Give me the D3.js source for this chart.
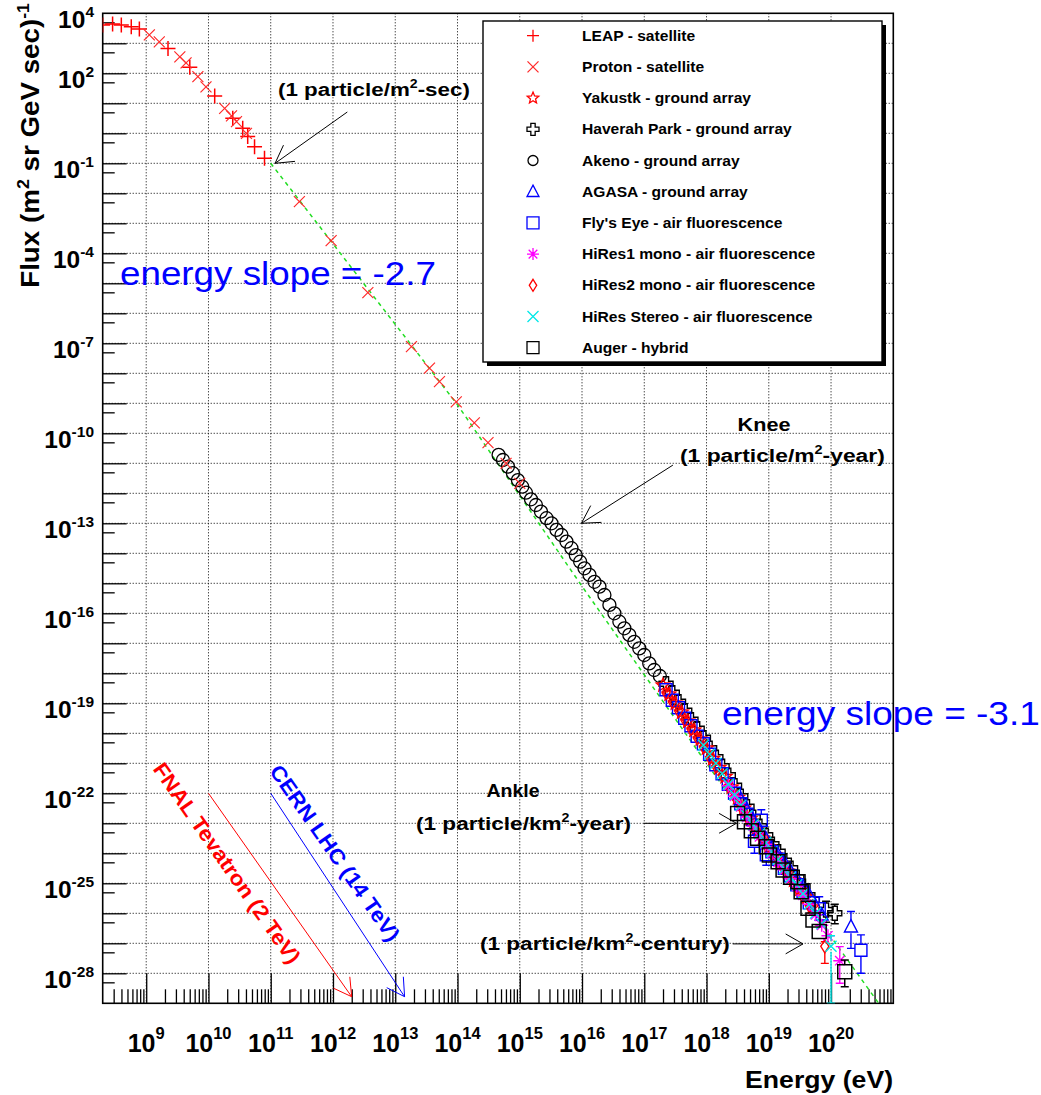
<!DOCTYPE html>
<html>
<head>
<meta charset="utf-8">
<script src="https://cdn.jsdelivr.net/npm/d3@7"></script>
<style>
  body { margin: 0; background: #fff; }
  svg { display: block; }
  text { font-family: "Liberation Sans", Arial, Helvetica, sans-serif; }
</style>
</head>
<body>
<svg id="chart" width="1041" height="1095"></svg>
<script>
// all values as [log10 E (eV), log10 flux]
// a point may carry a 3rd/4th entry: [.., low, high] error bar (log10 flux)
var leap = [[8.30,3.61],[8.46,3.64],[8.60,3.61],[8.76,3.55],[8.89,3.48],[9.35,2.83],[9.70,2.20],
  [10.10,1.24],[10.39,0.50],[10.55,0.17],[10.63,-0.11],[10.74,-0.45],[10.90,-0.83]];
var proton = [[9.05,3.28],[9.21,3.05],[9.54,2.55],[9.64,2.35],[9.83,1.89],[9.96,1.55],[10.26,0.83],
  [10.37,0.58],[10.45,0.39],[10.61,0.0],[11.46,-2.28],[11.97,-3.58],[12.56,-5.31],[13.26,-7.11],
  [13.55,-7.83],[13.71,-8.28],[13.98,-8.95],[14.27,-9.65],[14.49,-10.31],[14.78,-11.0],[15.0,-11.67]];
var yakutsk = [[17.3,-18.4],[17.4,-18.7],[17.5,-19.0],[17.6,-19.3],[17.7,-19.6],[17.8,-19.9],[17.9,-20.2],
  [18.0,-20.5],[18.1,-20.85],[18.2,-21.15],[18.3,-21.45],[18.4,-21.8],[18.5,-22.15],[18.6,-22.5],
  [18.7,-22.85],[18.8,-23.2],[18.9,-23.5],[19.0,-23.8],[19.1,-24.05],[19.2,-24.35],[19.3,-24.6],
  [19.4,-24.9],[19.5,-25.2],[19.6,-25.45],[19.7,-25.8]];
var haverah = [[17.35,-18.35],[17.45,-18.65],[17.55,-18.95],[17.65,-19.25],[17.75,-19.55],[17.85,-19.85],
  [17.95,-20.15],[18.05,-20.5],[18.15,-20.8],[18.25,-21.1],[18.35,-21.4],[18.45,-21.75],[18.55,-22.1],
  [18.65,-22.45],[18.75,-22.8],[18.85,-23.1],[18.95,-23.4],[19.05,-23.7],[19.15,-23.95],[19.25,-24.25],
  [19.35,-24.5],[19.45,-24.8],[19.55,-25.1],[19.7,-25.55],[19.92,-25.89,-26.3,-25.6],[20.06,-26.0,-26.35,-25.7]];
var akeno = [[14.66,-10.72],[14.73,-10.89],[14.81,-11.11],[14.89,-11.33],[14.97,-11.56],[15.04,-11.78],
  [15.10,-11.98],[15.18,-12.2],[15.26,-12.39],[15.34,-12.61],[15.43,-12.83],[15.51,-13.0],[15.59,-13.22],
  [15.67,-13.39],[15.75,-13.61],[15.83,-13.83],[15.90,-14.06],[15.97,-14.28],[16.04,-14.5],[16.12,-14.72],
  [16.20,-14.95],[16.28,-15.11],[16.36,-15.39],[16.44,-15.72],[16.52,-16.0],[16.60,-16.28],[16.68,-16.5],
  [16.76,-16.72],[16.84,-16.95],[16.92,-17.17],[17.0,-17.39],[17.08,-17.67],[17.16,-17.89],[17.25,-18.09]];
var agasa = [[18.55,-22.2],[18.65,-22.55],[18.75,-22.9],[18.85,-23.2],[18.95,-23.5],[19.05,-23.8],
  [19.15,-24.05],[19.25,-24.3],[19.35,-24.6],[19.45,-24.85],[19.55,-25.1],[19.65,-25.4],[19.75,-25.75],
  [19.85,-26.05],[20.32,-26.45,-27.17,-25.94]];
var flysEye = [[17.35,-18.55],[17.45,-18.9],[17.55,-19.15],[17.65,-19.5],[17.75,-19.75],[17.85,-20.1],
  [17.95,-20.35],[18.05,-20.7],[18.15,-21.05],[18.25,-21.35],[18.35,-21.7],[18.45,-22.0],[18.55,-22.35],
  [18.65,-22.7],[18.77,-23.6,-24.0,-23.3],[18.88,-22.9,-23.3,-22.55],[18.96,-24.05,-24.4,-23.78],
  [19.05,-23.95],[19.15,-24.2],[19.25,-24.5],[19.35,-24.75],[19.45,-25.05],[19.55,-25.3],[19.65,-25.65],
  [19.81,-25.85,-26.22,-25.45],[20.48,-27.23,-28.0,-26.72]];
var hires1 = [[18.35,-21.75],[18.45,-22.1],[18.55,-22.45],[18.65,-22.8],[18.75,-23.1],[18.85,-23.45],
  [18.95,-23.7],[19.05,-24.0],[19.15,-24.3],[19.25,-24.55],[19.35,-24.85],[19.45,-25.1],[19.55,-25.4],
  [19.65,-25.7],[19.75,-26.05],[19.85,-26.4],[19.95,-26.75],[20.14,-27.58,-28.33,-27.11]];
var hires2 = [[17.35,-18.65],[17.45,-18.95],[17.55,-19.25],[17.65,-19.55],[17.75,-19.85],[17.85,-20.15],
  [17.95,-20.45],[18.05,-20.8],[18.15,-21.1],[18.25,-21.4],[18.35,-21.75],[18.45,-22.1],[18.55,-22.45],
  [18.65,-22.8],[18.75,-23.1],[18.85,-23.4],[18.95,-23.7],[19.05,-24.0],[19.15,-24.3],[19.25,-24.55],
  [19.35,-24.85],[19.45,-25.15],[19.55,-25.45],[19.65,-25.75],[19.9,-27.1,-27.67,-26.95]];
var stereo = [[17.95,-20.4],[18.05,-20.7],[18.15,-21.0],[18.25,-21.35],[18.35,-21.7],[18.45,-22.05],
  [18.55,-22.4],[18.65,-22.75],[18.75,-23.05],[18.85,-23.35],[18.95,-23.65],[19.05,-23.95],[19.15,-24.2],
  [19.25,-24.5],[19.35,-24.8],[19.45,-25.05],[19.55,-25.35],[19.65,-25.7],[19.75,-26.0],[19.85,-26.35],
  [20.0,-27.1,-29,-26.75]];
var auger = [[18.5,-22.67],[18.61,-22.95],[18.72,-23.25],[18.82,-23.5],[18.96,-23.78],[19.01,-24.06],
  [19.15,-24.28],[19.23,-24.56],[19.35,-24.8],[19.47,-24.95],[19.52,-25.28],[19.63,-25.83],[19.71,-26.22],
  [19.81,-26.61],[20.22,-27.95,-28.45,-27.56]];

// green dashed reference line (slope -2.7 then steeper)
var slopeLine = [[11,-1],[14,-9.05],[16,-15.1],[18,-21.0],[20.8,-29.1]];

var legendLabels = ["LEAP - satellite", "Proton - satellite", "Yakustk - ground array",
  "Haverah Park - ground array", "Akeno - ground array", "AGASA - ground array",
  "Fly's Eye - air fluorescence", "HiRes1 mono - air fluorescence", "HiRes2 mono - air fluorescence",
  "HiRes Stereo - air fluorescence", "Auger - hybrid"];
var seriesData = [leap, proton, yakutsk, haverah, akeno, agasa, flysEye, hires1, hires2, stereo, auger];

var xTickExp = [9,10,11,12,13,14,15,16,17,18,19,20];
var yTickExp = [4,2,-1,-4,-7,-10,-13,-16,-19,-22,-25,-28];

// annotation arrows [from, to] in data coords
var noteArrows = [[[12.23,0.71],[11.07,-1.0]], [[17.46,-11.06],[15.99,-13.0]],
  [[16.99,-23.0],[18.48,-23.0]], [[18.42,-27.02],[19.55,-27.02]]];
var fnalArrow = [[10.0,-22.0],[12.3,-28.78]];   // 2 TeV
var lhcArrow = [[11.0,-22.0],[13.15,-28.78]];   // 14 TeV

// ---- styles
var markers = [
  {type:"plus", color:"#ff0000", s:7.5, lw:1.5},
  {type:"cross", color:"#ff2a2a", s:5.5, lw:1.2},
  {type:"star", color:"#ff0000", s:7, lw:1.4},
  {type:"opencross", color:"#000", s:7, lw:1.4},
  {type:"circle", color:"#000", s:6.5, lw:1.3},
  {type:"triangle", color:"#0000ff", s:6.5, lw:1.4},
  {type:"square", color:"#0000ff", s:6, lw:1.4},
  {type:"asterisk", color:"#ff00ff", s:6.5, lw:1.4},
  {type:"diamond", color:"#ff0000", s:6.5, lw:1.4},
  {type:"cross", color:"#00e8e8", s:5.5, lw:1.4},
  {type:"square", color:"#000", s:7, lw:1.5}
];

var svg = d3.select("#chart");
var x = d3.scaleLog().domain([2e8, 1e21]).range([102.7, 893.3]);
var y = d3.scaleLog().domain([1e-29, 1e4]).range([1003.3, 13.3]);
var x0 = x.range()[0], x1 = x.range()[1], yB = y.range()[0], yT = y.range()[1];
function px(d) { return x(Math.pow(10, d[0])); }
function py(d) { return y(Math.pow(10, d[1])); }
function pv(v) { return y(Math.pow(10, v)); }

function markerPath(type, s) {
  var a, pts, i;
  switch (type) {
    case "plus": return "M" + (-s) + ",0H" + s + "M0," + (-s) + "V" + s;
    case "cross": return "M" + (-s) + "," + (-s) + "L" + s + "," + s + "M" + (-s) + "," + s + "L" + s + "," + (-s);
    case "asterisk": a = s * 0.72;
      return "M" + (-s) + ",0H" + s + "M0," + (-s) + "V" + s +
        "M" + (-a) + "," + (-a) + "L" + a + "," + a + "M" + (-a) + "," + a + "L" + a + "," + (-a);
    case "square": return "M" + (-s) + "," + (-s) + "H" + s + "V" + s + "H" + (-s) + "Z";
    case "triangle": return "M0," + (-s * 1.1) + "L" + s + "," + (s * 0.8) + "L" + (-s) + "," + (s * 0.8) + "Z";
    case "diamond": return "M0," + (-s) + "L" + (s * 0.62) + ",0L0," + s + "L" + (-s * 0.62) + ",0Z";
    case "circle": return "M" + s + ",0A" + s + "," + s + " 0 1,1 " + (-s) + ",0A" + s + "," + s + " 0 1,1 " + s + ",0Z";
    case "star":
      pts = [];
      for (i = 0; i < 10; i++) {
        var r = i % 2 ? s * 0.45 : s, t = -Math.PI / 2 + i * Math.PI / 5;
        pts.push([r * Math.cos(t), r * Math.sin(t)]);
      }
      return "M" + pts.join("L") + "Z";
    case "opencross": a = s * 0.36;
      pts = [[-a,-s],[a,-s],[a,-a],[s,-a],[s,a],[a,a],[a,s],[-a,s],[-a,a],[-s,a],[-s,-a],[-a,-a]];
      return "M" + pts.join("L") + "Z";
  }
}

function addText(parent, tx, ty, parts, o) {
  var g = parent.append("g");
  var t = g.append("text")
    .attr("font-size", o.size)
    .attr("font-weight", o.bold ? "bold" : "normal")
    .attr("fill", o.color || "#000")
    .attr("text-anchor", o.anchor || "start");
  if (o.dy) t.attr("dy", o.dy);
  var up = false;
  parts.forEach(function (p) {
    var s = t.append("tspan");
    if (typeof p === "string") {
      s.text(p);
      if (up) { s.attr("dy", o.rise); up = false; }
    } else {
      s.text(p.sup).attr("font-size", o.supSize).attr("dy", -o.rise);
      up = true;
    }
  });
  var k = o.sx || 1;
  if (o.width) k = o.width / t.node().getBBox().width;
  g.attr("transform", "translate(" + tx + "," + ty + ")" + (o.rotate ? " rotate(" + o.rotate + ")" : "") +
    " scale(" + k + ",1)");
  return g;
}

function arrow(parent, from, to, color) {
  var ax = px(from), ay = py(from), bx = px(to), by = py(to);
  var a = Math.atan2(ay - by, ax - bx), L = 20, h = 0.52;
  parent.append("path")
    .attr("d", "M" + ax + "," + ay + "L" + bx + "," + by +
      "M" + (bx + L * Math.cos(a + h)) + "," + (by + L * Math.sin(a + h)) + "L" + bx + "," + by +
      "L" + (bx + L * Math.cos(a - h)) + "," + (by + L * Math.sin(a - h)))
    .attr("fill", "none").attr("stroke", color).attr("stroke-width", 1);
}

svg.append("defs").append("clipPath").attr("id", "plotclip")
  .append("rect").attr("x", x0).attr("y", yT).attr("width", x1 - x0).attr("height", yB - yT);

// grid
var grid = svg.append("g").attr("stroke", "#000").attr("stroke-width", 1).attr("stroke-dasharray", "1,2");
grid.selectAll(".gx").data(xTickExp).enter().append("line")
  .attr("x1", function (d) { return x(Math.pow(10, d)); })
  .attr("x2", function (d) { return x(Math.pow(10, d)); })
  .attr("y1", yT).attr("y2", yB);
grid.selectAll(".gy").data(d3.range(-28, 4)).enter().append("line")
  .attr("y1", function (d) { return y(Math.pow(10, d)); })
  .attr("y2", function (d) { return y(Math.pow(10, d)); })
  .attr("x1", x0).attr("x2", x1);

// axes: ticks point inward like the ROOT original
var xMinor = [];
d3.range(8, 21).forEach(function (n) { d3.range(2, 10).forEach(function (k) {
  var v = k * Math.pow(10, n); if (v > 2e8 && v < 1e21) xMinor.push(v); }); });
var yMinor = d3.range(-29, 4).map(function (n) { return 5 * Math.pow(10, n); });
var yMajor = d3.range(-28, 4).map(function (n) { return Math.pow(10, n); });

function styleAxis(g) {
  g.select(".domain").remove();
  g.selectAll(".tick line").attr("stroke", "#000").attr("stroke-width", 1.3);
}
svg.append("g").attr("transform", "translate(0," + yB + ")")
  .call(d3.axisBottom(x).tickValues(xTickExp.map(function (d) { return Math.pow(10, d); }))
    .tickSize(-30).tickFormat(""))
  .call(styleAxis);
svg.append("g").attr("transform", "translate(0," + yB + ")")
  .call(d3.axisBottom(x).tickValues(xMinor).tickSize(-14).tickFormat(""))
  .call(styleAxis);
svg.append("g").attr("transform", "translate(" + x0 + ",0)")
  .call(d3.axisLeft(y).tickValues(yMajor).tickSize(-24).tickFormat(""))
  .call(styleAxis);
svg.append("g").attr("transform", "translate(" + x0 + ",0)")
  .call(d3.axisLeft(y).tickValues(yMinor).tickSize(-12).tickFormat(""))
  .call(styleAxis);

svg.append("rect").attr("x", x0).attr("y", yT).attr("width", x1 - x0).attr("height", yB - yT)
  .attr("fill", "none").attr("stroke", "#000").attr("stroke-width", 1.6);

// tick labels
var labels = svg.append("g");
xTickExp.forEach(function (e) {
  addText(labels, x(Math.pow(10, e)), 1052, ["10", {sup: String(e)}],
    {size: 25, bold: true, anchor: "middle", supSize: 16.5, rise: 13.5});
});
yTickExp.forEach(function (e) {
  addText(labels, 94, y(Math.pow(10, e)) + 15, ["10", {sup: String(e)}],
    {size: 24.5, bold: true, anchor: "end", supSize: 15.5, rise: 11});
});

// axis titles
addText(svg, 39, 3, ["Flux (m", {sup: "2"}, " sr GeV sec)", {sup: "-1"}],
  {size: 25, bold: true, anchor: "end", supSize: 16, rise: 10, rotate: -90, width: 285});
addText(svg, 893, 1088, ["Energy (eV)"], {size: 23, bold: true, anchor: "end", width: 148});

// data
var plot = svg.append("g").attr("clip-path", "url(#plotclip)");
plot.append("path")
  .attr("d", d3.line().x(px).y(py)(slopeLine))
  .attr("fill", "none").attr("stroke", "#22dd22").attr("stroke-width", 1.5)
  .attr("stroke-dasharray", "4,4");

var drawOrder = [4, 0, 1, 3, 2, 6, 5, 8, 7, 9, 10];
drawOrder.forEach(function (i) {
  var m = markers[i];
  var g = plot.append("g").attr("fill", "none").attr("stroke", m.color).attr("stroke-width", m.lw);
  seriesData[i].forEach(function (d) {
    var cx = px(d), cy = py(d);
    if (d.length === 4) {
      var lo = pv(d[2]), hi = pv(d[3]), c = 4, bar = "";
      if (hi < cy - m.s) bar += "M" + cx + "," + hi + "V" + (cy - m.s);
      if (lo > cy + m.s) bar += "M" + cx + "," + (cy + m.s) + "V" + lo;
      bar += "M" + (cx - c) + "," + hi + "H" + (cx + c) + "M" + (cx - c) + "," + lo + "H" + (cx + c);
      g.append("path").attr("d", bar);
    }
    g.append("path").attr("d", markerPath(m.type, m.s)).attr("transform", "translate(" + cx + "," + cy + ")");
  });
});

// legend
var lg = svg.append("g");
lg.append("rect").attr("x", 487).attr("y", 25).attr("width", 399).attr("height", 341).attr("fill", "#000");
lg.append("rect").attr("x", 483).attr("y", 21).attr("width", 399).attr("height", 341)
  .attr("fill", "#fff").attr("stroke", "#000").attr("stroke-width", 1.4);
legendLabels.forEach(function (name, i) {
  var ry = 35.7 + i * 31.2, m = markers[i];
  lg.append("path").attr("d", markerPath(m.type, m.type === "circle" ? 5 : Math.min(m.s, 6)))
    .attr("transform", "translate(533," + ry + ")")
    .attr("fill", "none").attr("stroke", m.color).attr("stroke-width", 1.3);
  addText(lg, 582, ry + 5, [name], {size: 15, bold: true, sx: 1.04});
});

// annotations
var notes = svg.append("g");
noteArrows.forEach(function (a) { arrow(notes, a[0], a[1], "#000"); });
arrow(notes, fnalArrow[0], fnalArrow[1], "#ff0000");
arrow(notes, lhcArrow[0], lhcArrow[1], "#0000ff");

var bold19 = {size: 19, bold: true, supSize: 12, rise: 8};
addText(notes, 278, 96, ["(1 particle/m", {sup: "2"}, "-sec)"], Object.assign({width: 192}, bold19));
addText(notes, 764, 431, ["Knee"], Object.assign({width: 53, anchor: "middle"}, bold19));
addText(notes, 680, 462, ["(1 particle/m", {sup: "2"}, "-year)"], Object.assign({width: 205}, bold19));
addText(notes, 513, 797, ["Ankle"], Object.assign({width: 53, anchor: "middle"}, bold19));
addText(notes, 416, 830, ["(1 particle/km", {sup: "2"}, "-year)"], Object.assign({width: 215}, bold19));
addText(notes, 480, 950, ["(1 particle/km", {sup: "2"}, "-century)"], Object.assign({width: 250}, bold19));

addText(notes, 120, 285, ["energy slope = -2.7"], {size: 33, color: "#0000ff", width: 316});
addText(notes, 722, 725, ["energy slope = -3.1"], {size: 33, color: "#0000ff", width: 318});

addText(notes, 227, 863, ["FNAL Tevatron (2 TeV)"],
  {size: 21, bold: true, color: "#ff0000", anchor: "middle", dy: "0.35em", rotate: 55, width: 240});
addText(notes, 335, 853, ["CERN LHC (14 TeV)"],
  {size: 21, bold: true, color: "#0000ff", anchor: "middle", dy: "0.35em", rotate: 55, width: 210});
</script>
</body>
</html>
